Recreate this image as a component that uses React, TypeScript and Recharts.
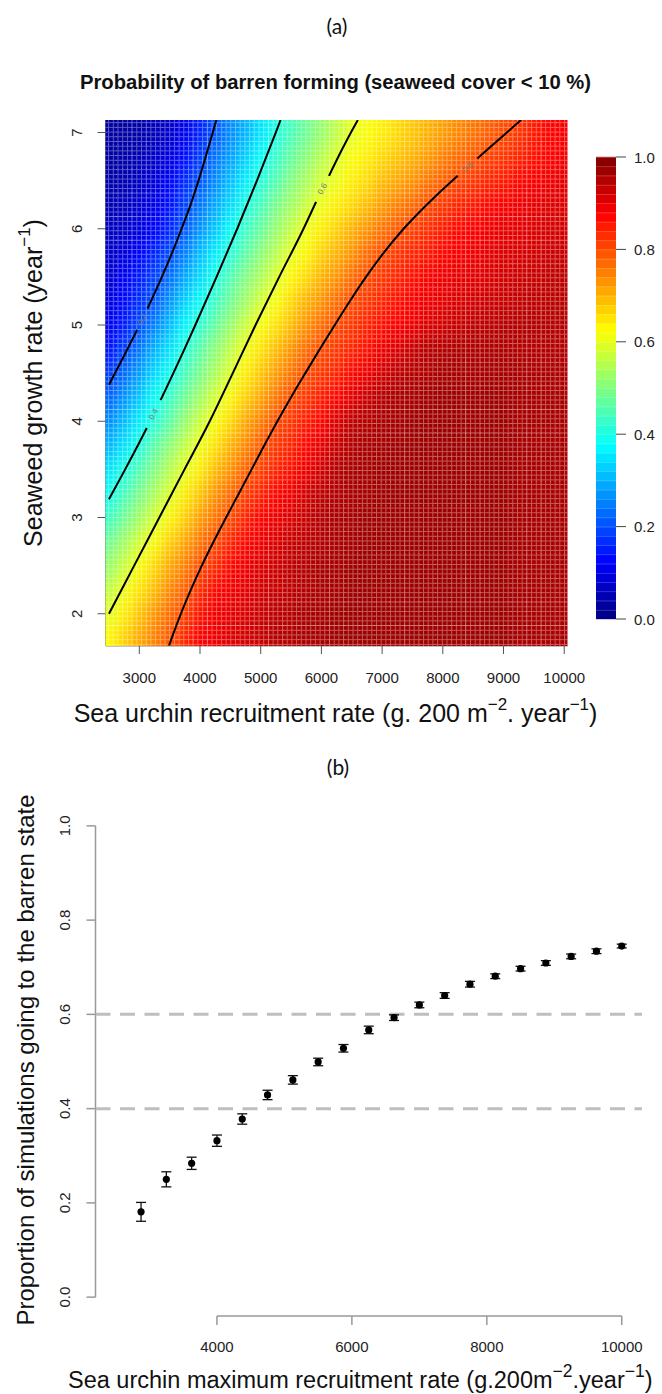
import React from "react";
import { ScatterChart, Scatter, XAxis, YAxis, ReferenceLine, ErrorBar } from "recharts";

const FONT = "'Liberation Sans', Arial, Helvetica, sans-serif";

// ---------- panel (a): probability grid ----------
const recruitGrid = [
  2500, 2750, 3000, 3250, 3500, 3750, 4000, 4250, 4500, 4750, 5000, 5250, 5500, 5750, 6000, 6250,
  6500, 6750, 7000, 7250, 7500, 7750, 8000, 8250, 8500, 8750, 9000, 9250, 9500, 9750, 10000,
];
const growthGrid = [
  1.75, 2, 2.25, 2.5, 2.75, 3, 3.25, 3.5, 3.75, 4, 4.25, 4.5, 4.75, 5, 5.25, 5.5, 5.75, 6, 6.25, 6.5,
  6.75, 7,
];
// one row per growth rate (bottom to top), one value per recruitment rate
const barrenProb = [
  [0.63, 0.67, 0.71, 0.75, 0.79, 0.84, 0.88, 0.89, 0.91, 0.92, 0.93, 0.95, 0.95, 0.96, 0.96, 0.97, 0.97, 0.97, 0.97, 0.97, 0.97, 0.97, 0.97, 0.97, 0.97, 0.97, 0.97, 0.96, 0.96, 0.96, 0.96],
  [0.6, 0.64, 0.68, 0.73, 0.77, 0.81, 0.86, 0.89, 0.9, 0.91, 0.93, 0.94, 0.95, 0.96, 0.96, 0.97, 0.97, 0.97, 0.97, 0.97, 0.97, 0.97, 0.97, 0.97, 0.97, 0.97, 0.97, 0.96, 0.96, 0.96, 0.96],
  [0.56, 0.61, 0.65, 0.69, 0.74, 0.78, 0.83, 0.87, 0.89, 0.9, 0.92, 0.93, 0.94, 0.95, 0.96, 0.96, 0.97, 0.97, 0.97, 0.97, 0.97, 0.97, 0.97, 0.97, 0.97, 0.97, 0.97, 0.96, 0.96, 0.96, 0.96],
  [0.52, 0.57, 0.62, 0.66, 0.71, 0.75, 0.8, 0.83, 0.87, 0.89, 0.91, 0.92, 0.94, 0.95, 0.96, 0.96, 0.97, 0.97, 0.97, 0.97, 0.97, 0.97, 0.97, 0.97, 0.97, 0.97, 0.97, 0.96, 0.96, 0.96, 0.96],
  [0.48, 0.53, 0.58, 0.62, 0.67, 0.71, 0.76, 0.8, 0.84, 0.87, 0.89, 0.91, 0.93, 0.94, 0.95, 0.96, 0.96, 0.97, 0.97, 0.97, 0.97, 0.97, 0.97, 0.97, 0.97, 0.97, 0.97, 0.96, 0.96, 0.96, 0.96],
  [0.43, 0.48, 0.53, 0.58, 0.63, 0.67, 0.72, 0.76, 0.8, 0.84, 0.875, 0.89, 0.91, 0.93, 0.95, 0.96, 0.96, 0.97, 0.97, 0.97, 0.97, 0.97, 0.97, 0.97, 0.97, 0.97, 0.97, 0.96, 0.96, 0.96, 0.96],
  [0.39, 0.44, 0.49, 0.54, 0.59, 0.64, 0.68, 0.73, 0.77, 0.81, 0.84, 0.87, 0.89, 0.92, 0.94, 0.95, 0.96, 0.96, 0.97, 0.97, 0.97, 0.97, 0.97, 0.97, 0.97, 0.97, 0.97, 0.96, 0.96, 0.96, 0.96],
  [0.35, 0.4, 0.45, 0.5, 0.55, 0.6, 0.64, 0.69, 0.73, 0.78, 0.81, 0.84, 0.86, 0.89, 0.92, 0.95, 0.96, 0.96, 0.97, 0.97, 0.97, 0.97, 0.97, 0.97, 0.97, 0.97, 0.97, 0.96, 0.96, 0.96, 0.96],
  [0.3, 0.35, 0.4, 0.46, 0.51, 0.56, 0.61, 0.65, 0.7, 0.74, 0.79, 0.82, 0.84, 0.87, 0.9, 0.93, 0.95, 0.96, 0.96, 0.97, 0.97, 0.97, 0.97, 0.97, 0.97, 0.97, 0.97, 0.96, 0.96, 0.96, 0.96],
  [0.26, 0.31, 0.36, 0.41, 0.46, 0.52, 0.57, 0.62, 0.66, 0.71, 0.75, 0.8, 0.82, 0.85, 0.87, 0.91, 0.94, 0.95, 0.96, 0.96, 0.97, 0.97, 0.97, 0.97, 0.97, 0.97, 0.97, 0.96, 0.96, 0.96, 0.96],
  [0.22, 0.27, 0.32, 0.38, 0.43, 0.48, 0.53, 0.58, 0.63, 0.67, 0.71, 0.76, 0.8, 0.82, 0.85, 0.87, 0.9, 0.93, 0.95, 0.96, 0.96, 0.97, 0.97, 0.97, 0.97, 0.97, 0.97, 0.96, 0.96, 0.96, 0.96],
  [0.18, 0.23, 0.28, 0.34, 0.39, 0.44, 0.49, 0.54, 0.59, 0.64, 0.68, 0.72, 0.76, 0.8, 0.82, 0.84, 0.87, 0.89, 0.92, 0.94, 0.95, 0.95, 0.96, 0.96, 0.96, 0.96, 0.96, 0.96, 0.955, 0.955, 0.955],
  [0.14, 0.19, 0.24, 0.3, 0.35, 0.41, 0.46, 0.51, 0.56, 0.61, 0.65, 0.69, 0.73, 0.77, 0.8, 0.82, 0.84, 0.86, 0.89, 0.91, 0.93, 0.95, 0.95, 0.955, 0.955, 0.955, 0.955, 0.95, 0.95, 0.95, 0.95],
  [0.11, 0.15, 0.2, 0.25, 0.31, 0.37, 0.42, 0.47, 0.52, 0.57, 0.62, 0.65, 0.69, 0.73, 0.77, 0.8, 0.82, 0.84, 0.86, 0.88, 0.89, 0.91, 0.92, 0.93, 0.94, 0.94, 0.95, 0.95, 0.95, 0.95, 0.95],
  [0.095, 0.13, 0.17, 0.21, 0.27, 0.33, 0.38, 0.43, 0.48, 0.53, 0.58, 0.62, 0.66, 0.7, 0.73, 0.77, 0.8, 0.82, 0.84, 0.86, 0.88, 0.89, 0.9, 0.91, 0.92, 0.925, 0.93, 0.935, 0.94, 0.94, 0.945],
  [0.08, 0.115, 0.15, 0.19, 0.23, 0.29, 0.34, 0.4, 0.45, 0.5, 0.54, 0.59, 0.63, 0.66, 0.7, 0.73, 0.77, 0.8, 0.82, 0.84, 0.86, 0.88, 0.89, 0.9, 0.9, 0.91, 0.92, 0.925, 0.93, 0.935, 0.94],
  [0.07, 0.09, 0.12, 0.16, 0.2, 0.25, 0.31, 0.36, 0.41, 0.46, 0.51, 0.55, 0.6, 0.63, 0.67, 0.7, 0.73, 0.77, 0.8, 0.82, 0.84, 0.85, 0.87, 0.88, 0.89, 0.9, 0.91, 0.91, 0.92, 0.925, 0.93],
  [0.06, 0.07, 0.09, 0.12, 0.16, 0.21, 0.27, 0.32, 0.38, 0.43, 0.47, 0.52, 0.56, 0.61, 0.64, 0.67, 0.7, 0.73, 0.76, 0.79, 0.81, 0.83, 0.85, 0.87, 0.88, 0.89, 0.9, 0.9, 0.91, 0.915, 0.92],
  [0.05, 0.06, 0.08, 0.1, 0.14, 0.19, 0.24, 0.29, 0.34, 0.4, 0.44, 0.49, 0.53, 0.57, 0.61, 0.64, 0.66, 0.69, 0.72, 0.75, 0.77, 0.8, 0.82, 0.84, 0.85, 0.87, 0.88, 0.89, 0.9, 0.905, 0.91],
  [0.04, 0.05, 0.065, 0.085, 0.12, 0.165, 0.21, 0.26, 0.31, 0.36, 0.41, 0.45, 0.5, 0.54, 0.58, 0.61, 0.64, 0.66, 0.69, 0.71, 0.73, 0.76, 0.78, 0.805, 0.82, 0.84, 0.85, 0.87, 0.88, 0.89, 0.9],
  [0.035, 0.04, 0.05, 0.07, 0.095, 0.135, 0.185, 0.24, 0.28, 0.33, 0.38, 0.425, 0.47, 0.51, 0.55, 0.59, 0.62, 0.64, 0.66, 0.68, 0.7, 0.72, 0.75, 0.77, 0.79, 0.81, 0.82, 0.84, 0.86, 0.87, 0.885],
  [0.03, 0.035, 0.04, 0.055, 0.07, 0.105, 0.155, 0.21, 0.26, 0.3, 0.35, 0.4, 0.44, 0.48, 0.52, 0.56, 0.6, 0.62, 0.64, 0.66, 0.68, 0.7, 0.72, 0.74, 0.76, 0.78, 0.8, 0.82, 0.85, 0.875, 0.88],
];

// contour lines, split where the level label sits
const contour02 = [
  [{ x: 2500, y: 4.38 }, { x: 2749, y: 4.68 }, { x: 2965, y: 4.95 }],
  [{ x: 3134, y: 5.17 }, { x: 3372, y: 5.5 }, { x: 3540, y: 5.75 }, { x: 3697, y: 6 }, { x: 3845, y: 6.25 }, { x: 3975, y: 6.5 }, { x: 4095, y: 6.75 }, { x: 4210, y: 7 }, { x: 4270, y: 7.13 }],
];
const contour04 = [
  [{ x: 2500, y: 3.19 }, { x: 2767, y: 3.5 }, { x: 2977, y: 3.75 }, { x: 3123, y: 3.93 }],
  [{ x: 3349, y: 4.22 }, { x: 3373, y: 4.25 }, { x: 3561, y: 4.5 }, { x: 3744, y: 4.75 }, { x: 3923, y: 5 }, { x: 4273, y: 5.5 }, { x: 4613, y: 6 }, { x: 4938, y: 6.5 }, { x: 5248, y: 7 }, { x: 5327, y: 7.13 }],
];
const contour06 = [
  [{ x: 2500, y: 2 }, { x: 2915, y: 2.5 }, { x: 3330, y: 3 }, { x: 3745, y: 3.5 }, { x: 4160, y: 4 }, { x: 4540, y: 4.5 }, { x: 4915, y: 5 }, { x: 5305, y: 5.5 }, { x: 5705, y: 6 }, { x: 5912, y: 6.28 }],
  [{ x: 6125, y: 6.55 }, { x: 6320, y: 6.8 }, { x: 6520, y: 7.04 }, { x: 6600, y: 7.13 }],
];
const contour08 = [
  [{ x: 3490, y: 1.67 }, { x: 3535, y: 1.75 }, { x: 3685, y: 2 }, { x: 3850, y: 2.25 }, { x: 4030, y: 2.5 }, { x: 4225, y: 2.75 }, { x: 4430, y: 3 }, { x: 4640, y: 3.25 }, { x: 4850, y: 3.5 }, { x: 5060, y: 3.75 }, { x: 5275, y: 4 }, { x: 5500, y: 4.25 }, { x: 5735, y: 4.5 }, { x: 5975, y: 4.75 }, { x: 6220, y: 5 }, { x: 6470, y: 5.25 }, { x: 6735, y: 5.5 }, { x: 7025, y: 5.75 }, { x: 7355, y: 6 }, { x: 7735, y: 6.25 }, { x: 8155, y: 6.5 }, { x: 8245, y: 6.55 }],
  [{ x: 8569, y: 6.73 }, { x: 8605, y: 6.75 }, { x: 9055, y: 7 }, { x: 9290, y: 7.13 }],
];
const contourLabels = [
  { x: 3050, y: 5.06, level: "0.2" },
  { x: 3236, y: 4.075, level: "0.4" },
  { x: 6018, y: 6.415, level: "0.6" },
  { x: 8407, y: 6.64, level: "0.8" },
];

const heatXTicks = [3000, 4000, 5000, 6000, 7000, 8000, 9000, 10000];
const heatYTicks = [2, 3, 4, 5, 6, 7];

// colour key
const legendLevels = [
  0.01, 0.03, 0.05, 0.07, 0.09, 0.11, 0.13, 0.15, 0.17, 0.19, 0.21, 0.23, 0.25, 0.27, 0.29, 0.31,
  0.33, 0.35, 0.37, 0.39, 0.41, 0.43, 0.45, 0.47, 0.49, 0.51, 0.53, 0.55, 0.57, 0.59, 0.61, 0.63,
  0.65, 0.67, 0.69, 0.71, 0.73, 0.75, 0.77, 0.79, 0.81, 0.83, 0.85, 0.87, 0.89, 0.91, 0.93, 0.95,
  0.97, 0.99,
];
const legendTicks = [0, 0.2, 0.4, 0.6, 0.8, 1];

// ---------- panel (b): proportion of simulations ending barren ----------
const recruitMax = [
  2875, 3250, 3625, 4000, 4375, 4750, 5125, 5500, 5875, 6250, 6625, 7000, 7375, 7750, 8125, 8500,
  8875, 9250, 9625, 10000,
];
const barrenMean = [
  0.181, 0.25, 0.284, 0.332, 0.378, 0.429, 0.461, 0.499, 0.528, 0.567, 0.593, 0.62, 0.64, 0.664,
  0.681, 0.697, 0.709, 0.723, 0.734, 0.745,
];
const barrenErr = [
  0.02, 0.016, 0.013, 0.012, 0.011, 0.01, 0.009, 0.008, 0.008, 0.008, 0.006, 0.006, 0.006, 0.006,
  0.005, 0.005, 0.005, 0.005, 0.005, 0.004,
];
const thresholds = [0.4, 0.6];
const bXTicks = [4000, 6000, 8000, 10000];
const bYTicks = [0, 0.2, 0.4, 0.6, 0.8, 1];

// ---------- layout ----------
const xDomA = [2443, 10054];
const yDomA = [1.665, 7.13];
const plotWA = 462;
const plotHA = 526;
const cellW = (250 / (xDomA[1] - xDomA[0])) * plotWA + 0.6;
const cellH = (0.25 / (yDomA[1] - yDomA[0])) * plotHA + 0.6;
const keyW = 20;
const keyH = 462;
const bandH = 0.02 * keyH + 0.4;

const contourLabelAngle: Record<string, number> = { "0.2": -66, "0.4": -62, "0.6": -62, "0.8": -42 };

function jet(v: number) {
  const c = (t: number) => Math.round(255 * Math.max(0, Math.min(1, t)));
  return `rgb(${c(1.5 - Math.abs(4 * v - 3))},${c(1.5 - Math.abs(4 * v - 2))},${c(1.5 - Math.abs(4 * v - 1))})`;
}

const heatCells = growthGrid.flatMap((y, i) =>
  recruitGrid.map((x, j) => ({ x, y, v: barrenProb[i][j] }))
);
const keyBands = legendLevels.map((v) => ({ x: 0.5, y: v }));
const bPoints = recruitMax.map((x, i) => ({ x, y: barrenMean[i], err: barrenErr[i] }));

const HeatCell = (props: any) => {
  const { cx, cy, payload } = props;
  return <rect x={cx - cellW / 2} y={cy - cellH / 2} width={cellW} height={cellH} fill={jet(payload.v)} />;
};

const LatticeCell = (props: any) => {
  const { cx, cy } = props;
  return <rect x={cx - cellW / 2} y={cy - cellH / 2} width={cellW} height={cellH} fill="url(#lattice)" />;
};

const KeyBand = (props: any) => {
  const { cx, cy, payload } = props;
  return (
    <g>
      <rect x={cx - keyW / 2} y={cy - bandH / 2} width={keyW} height={bandH} fill={jet(payload.y)} />
      <line x1={cx - keyW / 2} x2={cx + keyW / 2} y1={cy - bandH / 2 + 0.5} y2={cy - bandH / 2 + 0.5} stroke="#fff" strokeOpacity={0.3} />
    </g>
  );
};

const NoDot = () => <g />;

const ContourLabel = (props: any) => {
  const { cx, cy, payload } = props;
  return (
    <text
      x={cx}
      y={cy}
      transform={`rotate(${contourLabelAngle[payload.level]} ${cx} ${cy})`}
      textAnchor="middle"
      dominantBaseline="central"
      fontFamily={FONT}
      fontSize={8}
      fill="#7a7a7a"
    >
      {payload.level}
    </text>
  );
};

const XTick = (props: any) => (
  <text x={props.x} y={props.y} textAnchor="middle" dominantBaseline="central" fontFamily={FONT} fontSize={15} fill="#222">
    {props.payload.value}
  </text>
);

const RotTick = (digits: number) => (props: any) => (
  <text
    x={props.x}
    y={props.y}
    transform={`rotate(-90 ${props.x} ${props.y})`}
    textAnchor="middle"
    dominantBaseline="central"
    fontFamily={FONT}
    fontSize={15}
    fill="#222"
  >
    {Number(props.payload.value).toFixed(digits)}
  </text>
);

const LegendTick = (props: any) => (
  <text x={props.x} y={props.y} textAnchor="start" dominantBaseline="central" fontFamily={FONT} fontSize={15} fill="#222">
    {Number(props.payload.value).toFixed(1)}
  </text>
);

const BDot = (props: any) => <circle cx={props.cx} cy={props.cy} r={3.6} fill="#000" />;

const contourLine = { stroke: "#000", strokeWidth: 2 };

export default function App() {
  return (
    <div style={{ position: "absolute", left: 0, top: 0, width: 662, height: 1394, background: "#fff", overflow: "hidden" }}>
      <style>{`.heat-smooth { filter: url(#heatBlur); }`}</style>
      <svg width={0} height={0} style={{ position: "absolute" }}>
        <defs>
          <filter id="heatBlur" colorInterpolationFilters="sRGB">
            <feGaussianBlur stdDeviation="6 9" />
            <feComponentTransfer>
              <feFuncA type="linear" slope={40} intercept={0} />
            </feComponentTransfer>
          </filter>
          <pattern id="lattice" width={4.7} height={4.7} patternUnits="userSpaceOnUse">
            <path d="M0 0.5 H4.7 M0.5 0 V4.7" stroke="#fff" strokeOpacity={0.36} strokeWidth={1} fill="none" />
          </pattern>
        </defs>
      </svg>

      {/* panel (a): heat map with contours */}
      <div style={{ position: "absolute", left: 0, top: 0 }}>
        <ScatterChart width={662} height={740} margin={{ top: 120, right: 94.5, bottom: 54, left: 65.5 }}>
          <XAxis
            type="number"
            dataKey="x"
            domain={xDomA}
            ticks={heatXTicks}
            interval={0}
            allowDataOverflow
            height={40}
            tickSize={8}
            tickMargin={23}
            tick={XTick}
            tickLine={{ stroke: "#555" }}
            axisLine={{ stroke: "#888" }}
          />
          <YAxis
            type="number"
            dataKey="y"
            domain={yDomA}
            ticks={heatYTicks}
            interval={0}
            allowDataOverflow
            width={40}
            tickSize={8}
            tickMargin={20.5}
            tick={RotTick(0)}
            tickLine={{ stroke: "#555" }}
            axisLine={{ stroke: "#888" }}
          />
          <Scatter data={heatCells} shape={HeatCell} className="heat-smooth" isAnimationActive={false} />
          <Scatter data={heatCells} shape={LatticeCell} isAnimationActive={false} />
          {[contour02, contour04, contour06, contour08].flatMap((segs, k) =>
            segs.map((seg, s) => (
              <Scatter
                key={`c${k}-${s}`}
                data={seg}
                line={contourLine}
                lineType="joint"
                lineJointType="monotoneX"
                shape={NoDot}
                isAnimationActive={false}
              />
            ))
          )}
          <Scatter data={contourLabels} shape={ContourLabel} isAnimationActive={false} />
        </ScatterChart>
      </div>

      {/* colour key */}
      <div style={{ position: "absolute", left: 560, top: 100 }}>
        <ScatterChart width={102} height={560} margin={{ top: 57, right: 0, bottom: 41, left: 36 }}>
          <XAxis type="number" dataKey="x" domain={[0, 1]} hide />
          <YAxis
            type="number"
            dataKey="y"
            orientation="right"
            domain={[0, 1]}
            ticks={legendTicks}
            interval={0}
            width={46}
            tickSize={10}
            tickMargin={8}
            tick={LegendTick}
            tickLine={{ stroke: "#444" }}
            axisLine={false}
          />
          <Scatter data={keyBands} shape={KeyBand} isAnimationActive={false} />
        </ScatterChart>
      </div>

      {/* panel (b): proportion with error bars */}
      <div style={{ position: "absolute", left: 0, top: 740 }}>
        <ScatterChart width={662} height={654} margin={{ top: 67, right: 20, bottom: 38, left: 55.5 }}>
          <XAxis
            type="number"
            dataKey="x"
            domain={[2200, 10300]}
            ticks={bXTicks}
            interval={0}
            height={40}
            tickSize={9}
            tickMargin={21}
            tick={XTick}
            tickLine={{ stroke: "#999", strokeWidth: 1.5 }}
            axisLine={false}
          />
          <YAxis
            type="number"
            dataKey="y"
            domain={[-0.04, 1.04]}
            ticks={bYTicks}
            interval={0}
            width={40}
            tickSize={9}
            tickMargin={21.5}
            tick={RotTick(1)}
            tickLine={{ stroke: "#999", strokeWidth: 1.5 }}
            axisLine={false}
          />
          <ReferenceLine
            segment={[{ x: bXTicks[0], y: -0.04 }, { x: bXTicks[bXTicks.length - 1], y: -0.04 }]}
            stroke="#999"
            strokeWidth={1.5}
            ifOverflow="visible"
          />
          <ReferenceLine
            segment={[{ x: 2200, y: bYTicks[0] }, { x: 2200, y: bYTicks[bYTicks.length - 1] }]}
            stroke="#999"
            strokeWidth={1.5}
            ifOverflow="visible"
          />
          {thresholds.map((t) => (
            <ReferenceLine key={t} y={t} stroke="#bebebe" strokeWidth={3} strokeDasharray="15 9.5" />
          ))}
          <Scatter data={bPoints} shape={BDot} isAnimationActive={false}>
            <ErrorBar dataKey="err" direction="y" width={5} stroke="#111" strokeWidth={1.3} isAnimationActive={false} />
          </Scatter>
        </ScatterChart>
      </div>

      {/* titles */}
      <svg width={662} height={1394} style={{ position: "absolute", left: 0, top: 0, pointerEvents: "none" }}>
        <g fontFamily={FONT} fill="#111" dominantBaseline="central">
          <text x={337} y={25} textAnchor="middle" fontFamily="Lato, 'Open Sans', sans-serif" fontSize={21}>
            (a)
          </text>
          <text x={335.5} y={82} textAnchor="middle" fontWeight="bold" fontSize={19.5} textLength={511} lengthAdjust="spacingAndGlyphs">
            {"Probability of barren forming (seaweed cover < 10 %)"}
          </text>
          <text x={335.5} y={713} textAnchor="middle" fontSize={25}>
            Sea urchin recruitment rate (g. 200 m<tspan dy={-9} fontSize={17}>−2</tspan>
            <tspan dy={9}>. year</tspan>
            <tspan dy={-9} fontSize={17}>−1</tspan>
            <tspan dy={9}>)</tspan>
          </text>
          <text x={33} y={383} transform="rotate(-90 33 383)" textAnchor="middle" fontSize={25}>
            Seaweed growth rate (year<tspan dy={-9} fontSize={17}>−1</tspan>
            <tspan dy={9}>)</tspan>
          </text>
          <text x={338} y={766} textAnchor="middle" fontFamily="Lato, 'Open Sans', sans-serif" fontSize={21}>
            (b)
          </text>
          <text x={25} y={1060} transform="rotate(-90 25 1060)" textAnchor="middle" fontSize={24}>
            Proportion of simulations going to the barren state
          </text>
          <text x={68} y={1380} textAnchor="start" fontSize={23.5}>
            Sea urchin maximum recruitment rate (g.200m<tspan dy={-9} fontSize={17.5}>−2</tspan>
            <tspan dy={9}>.year</tspan>
            <tspan dy={-9} fontSize={17.5}>−1</tspan>
            <tspan dy={9}>)</tspan>
          </text>
        </g>
      </svg>
    </div>
  );
}
